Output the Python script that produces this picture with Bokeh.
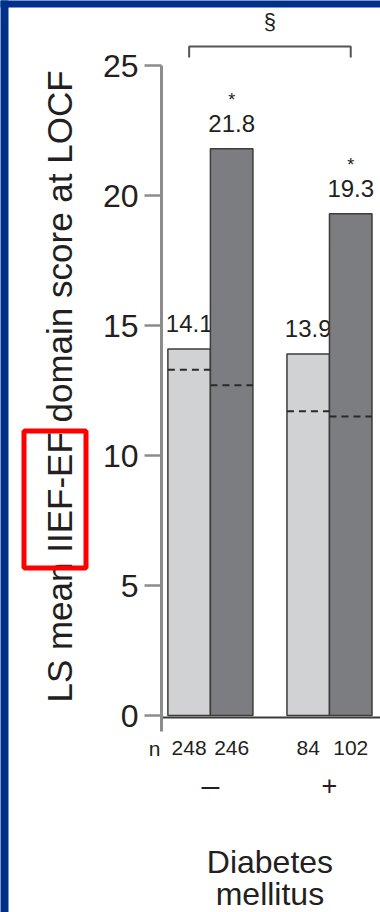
import math
from bokeh.plotting import figure
from bokeh.models import Range1d, FixedTicker, LinearAxis
from bokeh.core.properties import value
from bokeh.embed import file_html
from bokeh.resources import INLINE

# Subgroups by diabetes mellitus status: without (–) and with (+)
groups = ["–", "+"]
placebo_mean = [14.1, 13.9]
active_mean = [21.8, 19.3]
placebo_ref = [13.3, 11.7]   # dashed reference level drawn across each bar
active_ref = [12.7, 11.5]
placebo_n = [248, 84]
active_n = [246, 102]
y_ticks = [0, 5, 10, 15, 20, 25]
y_title = "LS mean IIEF-EF domain score at LOCF"
x_title = ["Diabetes", "mellitus"]
signif_mark = "*"
bracket_mark = "§"

# ---- layout / style -------------------------------------------------------
W, H = 380, 912
AXIS_PX = 161                 # canvas column of the y axis
XS = 219 / 5.15               # pixels per x unit
YS = 26.0                     # pixels per y unit
ZERO_PY = 715                 # canvas row of y = 0
AXIS_X = -0.15                # data x of the y axis
X0 = AXIS_X - AXIS_PX / XS
X1 = X0 + W / XS
Y1 = ZERO_PY / YS
Y0 = Y1 - H / YS

def dx(px):
    """canvas pixel column -> data x"""
    return X0 + px / XS

def dy(py):
    """canvas pixel row -> data y"""
    return Y1 - py / YS

FONT = "Liberation Sans"
TEXT = "#231f20"
LIGHT = "#d1d2d4"
DARK = "#7c7d80"
EDGE = "#3c3c3c"
AXIS = "#8c8c8c"
BLUE = "#00308a"

group_pos = [1.0, 3.8]
light_x = [g - 0.5 for g in group_pos]
dark_x = [g + 0.5 for g in group_pos]
mid_x = sum(group_pos) / 2

def txt(x, y, text, size, **kw):
    p.text(x=x, y=y, text=text, text_align="center",
           text_baseline="middle", text_font=value(FONT),
           text_font_size=size, text_color=TEXT, **kw)

p = figure(width=W, height=H, x_range=Range1d(X0, X1), y_range=Range1d(Y0, Y1),
           x_axis_location=None, y_axis_location=None,
           output_backend="svg", toolbar_location=None,
           min_border=0, outline_line_color=None,
           background_fill_color="white", border_fill_color="white")
p.grid.visible = False

ax = LinearAxis(fixed_location=AXIS_X)
ax.ticker = FixedTicker(ticks=y_ticks)
ax.bounds = (-0.6, 25)
ax.axis_line_color = AXIS
ax.axis_line_width = 3
ax.major_tick_line_color = AXIS
ax.major_tick_line_width = 2.5
ax.major_tick_out = 17
ax.major_tick_in = 0
ax.minor_tick_line_color = None
ax.major_label_text_font = FONT
ax.major_label_text_font_size = "32px"
ax.major_label_text_color = TEXT
ax.major_label_standoff = 6
p.add_layout(ax, "left")

# axis title, reading upwards
txt([dx(58.5)], [dy(386)], [y_title], "35px", angle=math.pi / 2)

# light (comparator) bars
p.vbar(x=light_x, top=placebo_mean, bottom=0, width=1.0,
       fill_color=LIGHT, line_color=EDGE, line_width=1.5)

# value labels (the dark bars are drawn over them afterwards)
lab_gap = 0.97
txt(light_x + dark_x, [v + lab_gap for v in placebo_mean + active_mean],
    [f"{v:.1f}" for v in placebo_mean + active_mean], "24px")

# dark (active) bars
p.vbar(x=dark_x, top=active_mean, bottom=0, width=1.0,
       fill_color=DARK, line_color=EDGE, line_width=1.5)

# dashed reference levels
p.segment(x0=[x - 0.5 for x in light_x + dark_x],
          y0=placebo_ref + active_ref,
          x1=[x + 0.5 for x in light_x + dark_x],
          y1=placebo_ref + active_ref,
          line_color="#2a2a2a", line_width=2, line_dash="7 5")

# baseline from the axis to the right edge
p.segment(x0=[AXIS_X], y0=[-0.08], x1=[X1], y1=[-0.08], line_color=EDGE, line_width=2)

# significance asterisks
txt(dark_x, [v + 1.88 for v in active_mean], [signif_mark] * len(dark_x), "18px")

# comparison bracket between the subgroups
bx0, bx1 = light_x[0], dark_x[1]
p.line(x=[bx0, bx0, bx1, bx1], y=[25.31, 25.73, 25.73, 25.31],
       line_color="#555555", line_width=2)
txt([mid_x], [26.69], [bracket_mark], "22px")

# patient numbers under each bar
n_y = -1.25
txt([dx(154)] + light_x + dark_x, [n_y] * 5,
    ["n"] + [str(n) for n in placebo_n + active_n], "21px")

# subgroup signs and category title
txt([group_pos[0]], [dy(784.5)], [groups[0]], "32px")
txt([group_pos[1]], [dy(785)], [groups[1]], "27px")
txt([mid_x] * 2, [dy(861.8), dy(893.8)], x_title, "32px")

# highlight box around the score name in the axis title
p.quad(left=[dx(23.5)], right=[dx(85.5)], top=[dy(430.5)], bottom=[dy(567.5)],
       fill_alpha=0, line_color="#ff0000", line_width=5)

# slide frame (left and top edges)
p.quad(left=[dx(-40), dx(-40)], right=[dx(8), dx(W + 40)],
       top=[dy(-40), dy(-40)], bottom=[dy(H + 40), dy(7)],
       fill_color=BLUE, line_alpha=0)

open("out.html", "w").write(file_html(p, INLINE))
